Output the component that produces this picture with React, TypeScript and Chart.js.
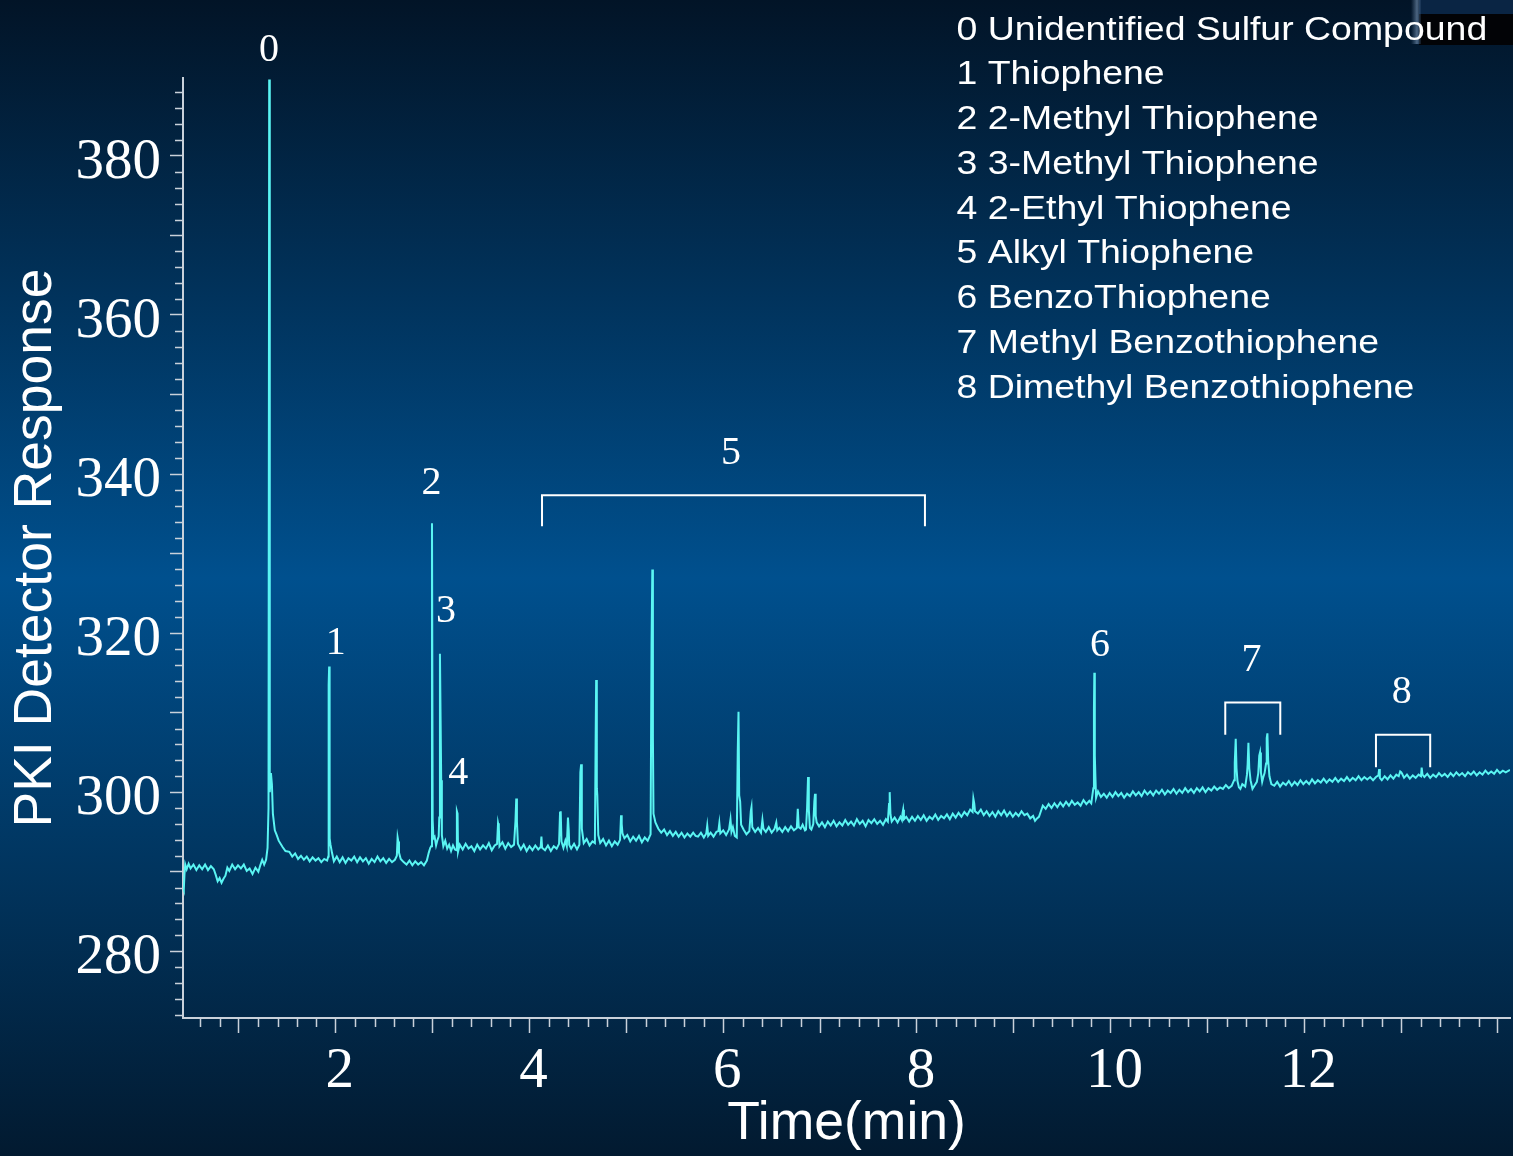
import React, { useEffect, useRef } from 'react';
import { Chart, registerables } from 'chart.js';

Chart.register(...registerables);

const SERIF = "'Liberation Serif', 'Times New Roman', serif";
const SANS = "'Liberation Sans', Arial, sans-serif";

// [retention time (min), detector response]
const earlyTrace: [number, number][] = [
  [0.422, 288.0], [0.43, 287.7], [0.437, 289.6], [0.445, 290.9], [0.46, 290.3], [0.48, 291.0], [0.50, 290.4],
  [0.53, 290.9], [0.56, 290.2], [0.59, 290.8], [0.62, 290.3], [0.65, 290.9], [0.68, 290.2], [0.71, 290.7],
  [0.74, 290.3], [0.76, 289.6], [0.78, 288.8], [0.80, 289.2], [0.82, 288.6], [0.84, 289.1], [0.86, 289.5],
  [0.88, 290.5], [0.90, 290.1], [0.93, 290.9], [0.96, 290.3], [0.99, 290.8], [1.02, 290.4], [1.05, 290.9],
  [1.08, 290.1], [1.11, 290.4], [1.14, 289.7], [1.17, 290.5], [1.20, 290.0], [1.22, 290.8], [1.24, 291.5],
  [1.26, 290.9], [1.28, 291.5], [1.295, 293.0], [1.305, 298.0], [1.312, 389.6], [1.318, 300.0], [1.33, 302.4],
  [1.34, 301.0], [1.35, 297.3], [1.37, 295.2], [1.39, 294.6], [1.41, 293.9], [1.45, 293.1], [1.48, 292.6],
  [1.52, 292.5], [1.55, 291.9], [1.58, 292.3], [1.61, 291.6], [1.64, 292.0], [1.67, 291.5], [1.70, 291.9],
  [1.73, 291.3], [1.76, 291.8], [1.79, 291.4], [1.82, 291.7], [1.85, 291.2], [1.88, 291.6], [1.91, 291.4],
];

const thiopheneTrace: [number, number][] = [
  [1.922, 291.9], [1.926, 313.5], [1.931, 315.8], [1.936, 294.2], [1.945, 293.4], [1.96, 292.4], [1.98, 291.3],
  [2.01, 291.9], [2.04, 291.2], [2.07, 291.8], [2.10, 291.1], [2.13, 291.7], [2.16, 291.4], [2.19, 291.9],
  [2.22, 291.2], [2.25, 291.8], [2.28, 291.3], [2.31, 291.7], [2.34, 291.0], [2.37, 291.6], [2.40, 291.2],
  [2.43, 291.9], [2.46, 291.3], [2.49, 291.7], [2.52, 291.1], [2.55, 291.6], [2.58, 291.2], [2.61, 291.5],
  [2.63, 292.0], [2.638, 294.3], [2.645, 293.8], [2.652, 292.4], [2.67, 291.6], [2.70, 291.2], [2.73, 290.9],
  [2.76, 291.4], [2.79, 290.8], [2.82, 291.3], [2.85, 290.9], [2.88, 291.2], [2.91, 290.8], [2.94, 291.4],
  [2.96, 292.4], [2.975, 293.0], [2.985, 293.2], [2.993, 333.8], [3.0, 296.5], [3.008, 294.2], [3.02, 294.4],
  [3.035, 293.3], [3.05, 294.0], [3.062, 294.4], [3.068, 296.8], [3.075, 317.4], [3.082, 309.0], [3.088, 301.5],
  [3.095, 294.6], [3.11, 293.2], [3.13, 293.9], [3.15, 292.9], [3.17, 293.4], [3.19, 292.6], [3.21, 293.3],
  [3.23, 292.8], [3.245, 292.7], [3.25, 297.6], [3.257, 297.3], [3.262, 292.5], [3.28, 293.4], [3.31, 292.8],
  [3.34, 293.5], [3.37, 292.9], [3.40, 293.2], [3.43, 292.6], [3.46, 293.4], [3.49, 292.8], [3.52, 293.3],
  [3.55, 292.9], [3.58, 293.6], [3.61, 292.7], [3.64, 293.3], [3.665, 293.5], [3.675, 296.1], [3.683, 295.6],
  [3.69, 293.2], [3.72, 293.7], [3.75, 292.9], [3.78, 293.6], [3.81, 293.1], [3.84, 293.4], [3.855, 296.4],
  [3.863, 299.2], [3.87, 296.3], [3.88, 293.5], [3.91, 292.8], [3.94, 293.4], [3.97, 292.6], [4.00, 293.2],
  [4.03, 292.7], [4.06, 293.3], [4.09, 292.8],
];

const alkylTrace: [number, number][] = [
  [4.115, 293.1], [4.123, 294.4], [4.13, 293.0], [4.16, 292.7], [4.19, 293.3], [4.22, 292.6], [4.25, 293.2],
  [4.28, 292.9], [4.305, 293.5], [4.315, 297.4], [4.322, 297.6], [4.33, 293.8], [4.35, 293.0], [4.37, 293.9],
  [4.385, 293.2], [4.397, 296.8], [4.405, 295.2], [4.41, 293.4], [4.43, 292.9], [4.46, 293.5], [4.49, 292.8],
  [4.515, 293.4], [4.525, 302.5], [4.533, 303.5], [4.54, 295.4], [4.56, 293.6], [4.59, 294.1], [4.62, 293.3],
  [4.65, 293.8], [4.675, 293.6], [4.683, 307.0], [4.688, 314.1], [4.695, 300.5], [4.70, 299.6], [4.71, 294.6],
  [4.73, 293.6], [4.76, 294.1], [4.79, 293.3], [4.82, 293.9], [4.85, 293.2], [4.88, 293.8], [4.91, 293.4],
  [4.935, 294.0], [4.945, 297.1], [4.952, 296.0], [4.96, 294.8], [4.98, 294.2], [5.01, 294.6], [5.04, 293.8],
  [5.07, 294.4], [5.10, 293.9], [5.13, 294.5], [5.16, 293.7], [5.19, 294.3], [5.22, 293.9], [5.25, 294.7],
  [5.26, 318.5], [5.268, 328.0], [5.274, 307.0], [5.28, 297.3], [5.30, 296.2], [5.33, 295.4], [5.36, 294.9],
  [5.39, 295.3], [5.42, 294.6], [5.45, 295.1], [5.48, 294.5], [5.51, 295.0], [5.54, 294.4], [5.57, 294.9],
  [5.60, 294.3], [5.63, 294.8], [5.66, 294.4], [5.69, 294.9], [5.715, 294.5], [5.74, 294.4], [5.77, 294.9],
  [5.80, 294.3], [5.825, 294.8], [5.835, 295.8], [5.845, 294.5], [5.87, 294.9], [5.90, 294.4], [5.93, 295.0],
  [5.95, 295.1], [5.96, 296.1], [5.97, 294.8], [6.0, 295.2], [6.03, 294.6], [6.06, 295.3], [6.075, 296.6],
  [6.085, 295.0], [6.10, 295.6], [6.12, 294.5], [6.14, 294.3], [6.15, 305.0], [6.158, 310.1], [6.165, 299.6],
  [6.175, 298.8], [6.185, 295.9], [6.21, 295.3], [6.24, 294.7], [6.27, 295.1], [6.285, 297.6], [6.292, 298.1],
  [6.30, 295.6], [6.33, 295.0], [6.36, 295.5], [6.39, 294.9], [6.405, 296.5], [6.415, 295.4], [6.44, 295.0],
  [6.47, 295.6], [6.50, 294.9], [6.53, 295.4], [6.548, 296.2], [6.558, 295.2], [6.58, 295.5], [6.61, 295.0],
  [6.64, 295.6], [6.67, 295.1], [6.70, 295.7], [6.73, 295.2], [6.76, 295.5], [6.77, 297.9], [6.78, 295.6],
  [6.80, 295.4], [6.82, 295.9], [6.845, 295.2], [6.855, 295.3], [6.866, 298.0], [6.876, 301.9], [6.884, 297.8],
  [6.895, 295.5], [6.91, 295.3], [6.93, 296.0], [6.941, 298.8], [6.948, 299.8], [6.955, 297.0], [6.965, 296.2],
  [6.99, 295.7], [7.02, 296.2], [7.05, 295.6], [7.08, 296.3], [7.11, 295.8], [7.14, 296.4], [7.17, 295.7],
  [7.20, 296.2], [7.23, 295.8], [7.26, 296.5], [7.29, 295.9], [7.32, 296.3], [7.35, 295.8], [7.38, 296.6],
  [7.41, 296.0], [7.44, 296.4], [7.47, 295.7], [7.50, 296.5], [7.53, 296.1], [7.56, 296.6], [7.59, 296.0],
  [7.62, 296.4], [7.65, 295.9], [7.68, 296.6], [7.70, 296.3], [7.712, 298.5], [7.719, 300.0], [7.727, 297.2],
  [7.74, 296.3], [7.77, 296.8], [7.80, 296.2], [7.83, 296.9], [7.845, 296.5], [7.852, 297.4], [7.858, 297.8],
  [7.866, 296.6], [7.89, 296.9], [7.92, 296.3], [7.95, 296.9], [7.98, 296.4], [8.01, 297.0], [8.04, 296.5],
  [8.07, 297.1],
];

const benzoTrace: [number, number][] = [
  [8.10, 296.4], [8.13, 296.9], [8.16, 296.6], [8.19, 297.2], [8.22, 296.5], [8.25, 297.0], [8.28, 296.7],
  [8.31, 297.2], [8.34, 296.6], [8.37, 297.3], [8.40, 296.8], [8.43, 297.4], [8.46, 296.9], [8.49, 297.5],
  [8.52, 297.1], [8.55, 297.8], [8.575, 297.5], [8.583, 299.2], [8.592, 298.6], [8.60, 297.6], [8.63, 297.3],
  [8.66, 297.8], [8.69, 297.1], [8.72, 297.6], [8.75, 297.0], [8.78, 297.5], [8.81, 296.9], [8.84, 297.6],
  [8.87, 297.1], [8.90, 297.7], [8.93, 297.0], [8.96, 297.5], [8.99, 296.9], [9.02, 297.4], [9.05, 297.0],
  [9.08, 297.6], [9.11, 297.1], [9.14, 297.3], [9.17, 296.7], [9.20, 297.0], [9.22, 296.4], [9.24, 296.7],
  [9.26, 296.9], [9.28, 297.6], [9.30, 298.3], [9.33, 297.9], [9.36, 298.5], [9.39, 298.0], [9.42, 298.6],
  [9.45, 298.1], [9.48, 298.7], [9.51, 298.2], [9.54, 298.8], [9.57, 298.3], [9.60, 298.9], [9.63, 298.4],
  [9.66, 298.7], [9.69, 298.3], [9.72, 299.0], [9.75, 298.5], [9.78, 298.9], [9.80, 298.6], [9.822, 300.5],
  [9.828, 310.5], [9.832, 315.0], [9.837, 304.6], [9.843, 302.0], [9.85, 299.3], [9.87, 300.1], [9.90, 299.4],
  [9.93, 299.8], [9.96, 299.3], [9.99, 299.9], [10.02, 299.4], [10.05, 300.0], [10.08, 299.5], [10.11, 299.9],
  [10.14, 299.3], [10.17, 299.8], [10.20, 299.5], [10.23, 300.1], [10.26, 299.6], [10.29, 300.0], [10.32, 299.5],
  [10.35, 300.2], [10.38, 299.7], [10.41, 300.1], [10.44, 299.6], [10.47, 300.2], [10.50, 299.8], [10.53, 300.3],
  [10.56, 299.7], [10.59, 300.2], [10.62, 299.9], [10.65, 300.4], [10.68, 299.8], [10.71, 300.3], [10.74, 299.9],
  [10.77, 300.5], [10.80, 300.0], [10.83, 300.4], [10.86, 299.9], [10.89, 300.5], [10.92, 300.1], [10.95, 300.6],
  [10.98, 300.0], [11.01, 300.5], [11.04, 300.2], [11.07, 300.7], [11.10, 300.3], [11.13, 300.6], [11.16, 300.4],
  [11.19, 300.9], [11.22, 300.5], [11.25, 300.8], [11.275, 301.5], [11.282, 303.7], [11.292, 306.7], [11.30, 303.0],
  [11.31, 301.4], [11.325, 300.6], [11.34, 300.4], [11.36, 301.0], [11.39, 300.7], [11.408, 302.2], [11.415, 303.5],
  [11.423, 306.2], [11.432, 303.0], [11.445, 301.5], [11.465, 300.4], [11.485, 300.8], [11.51, 301.3], [11.525, 302.4],
  [11.535, 304.6], [11.543, 305.0], [11.552, 302.5], [11.565, 301.3], [11.577, 301.9], [11.59, 302.4], [11.605, 303.6],
  [11.612, 306.8], [11.619, 307.4], [11.627, 304.0], [11.64, 302.0], [11.66, 301.0], [11.69, 300.8], [11.72, 301.3],
  [11.75, 300.7], [11.78, 301.2], [11.81, 300.9], [11.84, 301.4], [11.87, 300.8], [11.90, 301.3], [11.93, 300.9],
  [11.96, 301.5], [11.99, 301.0], [12.02, 301.4], [12.05, 301.0], [12.08, 301.6], [12.11, 301.1], [12.14, 301.5],
  [12.17, 301.2], [12.20, 301.7], [12.23, 301.2], [12.26, 301.6], [12.29, 301.3], [12.32, 301.8], [12.35, 301.3],
  [12.38, 301.7], [12.41, 301.4], [12.44, 301.9], [12.47, 301.4], [12.50, 301.8], [12.53, 301.5], [12.56, 302.0],
  [12.59, 301.5], [12.62, 301.9], [12.65, 301.6], [12.68, 301.9], [12.71, 301.5], [12.74, 301.9], [12.765, 302.1],
  [12.773, 302.9], [12.78, 301.8], [12.80, 301.5], [12.83, 302.0], [12.86, 301.6], [12.89, 302.1], [12.92, 301.7],
  [12.95, 302.2], [12.975, 302.0], [12.99, 302.6], [13.00, 302.5], [13.01, 302.3], [13.03, 301.8], [13.06, 302.2],
  [13.09, 301.7], [13.12, 302.1], [13.15, 301.8], [13.18, 302.2], [13.205, 302.0], [13.212, 303.1], [13.22, 302.2],
  [13.24, 301.9], [13.27, 302.3], [13.30, 301.8], [13.33, 302.2], [13.36, 301.9], [13.39, 302.4], [13.42, 302.0],
  [13.45, 302.3], [13.48, 301.9], [13.51, 302.4], [13.54, 302.0], [13.57, 302.5], [13.60, 302.1], [13.63, 302.4],
  [13.66, 302.0], [13.69, 302.5], [13.72, 302.2], [13.75, 302.6], [13.78, 302.1], [13.81, 302.5], [13.84, 302.2],
  [13.87, 302.7], [13.90, 302.3], [13.93, 302.6], [13.96, 302.3], [13.99, 302.8], [14.02, 302.4], [14.05, 302.7],
  [14.08, 302.5], [14.124, 302.8],
];

// peak annotations (data coordinates)
const peakLabels = ['0', '1', '2', '3', '4', '5', '6', '7', '8'];
const peakLabelTimes = [1.31, 1.998, 2.988, 3.137, 3.264, 6.08, 9.89, 11.456, 13.005];
const peakLabelResponses = [393.3, 318.7, 338.8, 322.7, 302.4, 342.6, 318.4, 316.5, 312.5];

// group brackets (data coordinates)
const bracketStart = [4.129, 11.184, 12.74];
const bracketEnd = [8.083, 11.752, 13.3];
const bracketTop = [337.34, 311.28, 307.23];
const bracketBottom = [333.45, 307.23, 303.12];

const compoundNames = [
  '0 Unidentified Sulfur Compound',
  '1 Thiophene',
  '2 2-Methyl Thiophene',
  '3 3-Methyl Thiophene',
  '4 2-Ethyl Thiophene',
  '5 Alkyl Thiophene',
  '6 BenzoThiophene',
  '7 Methyl Benzothiophene',
  '8 Dimethyl Benzothiophene',
];

const xTickLabels = [2, 4, 6, 8, 10, 12];
const yTickLabels = [280, 300, 320, 340, 360, 380];

const X_MIN = 0.422;
const X_MAX = 14.124;
const Y_MIN = 271.6;
const Y_MAX = 389.8;

const AXIS_COLOR = '#c9d1da';

const decorPlugin = {
  id: 'decor',
  beforeDraw(chart: any) {
    const { ctx, width, height } = chart;
    ctx.save();
    const g = ctx.createLinearGradient(0, 0, 0, height);
    g.addColorStop(0, '#021427');
    g.addColorStop(0.5, '#00508e');
    g.addColorStop(1, '#021a30');
    ctx.fillStyle = g;
    ctx.fillRect(0, 0, width, height);
    // slide artifact in the top-right corner
    ctx.fillStyle = '#0a2544';
    ctx.fillRect(1419, 0, width - 1419, 14);
    ctx.fillStyle = '#020306';
    ctx.fillRect(1419, 14, width - 1419, 31);
    const sg = ctx.createLinearGradient(1411, 0, 1421, 0);
    sg.addColorStop(0, 'rgba(120,150,185,0)');
    sg.addColorStop(0.6, 'rgba(140,170,205,0.55)');
    sg.addColorStop(1, 'rgba(60,90,125,0.25)');
    ctx.fillStyle = sg;
    ctx.fillRect(1411, 0, 10, 44);
    ctx.restore();
  },
  afterDraw(chart: any) {
    const { ctx, chartArea } = chart;
    const xs = chart.scales.x;
    const ys = chart.scales.y;
    ctx.save();
    // minor ticks
    ctx.strokeStyle = AXIS_COLOR;
    ctx.lineWidth = 1.5;
    ctx.beginPath();
    for (let i = Math.ceil(X_MIN / 0.2); i * 0.2 <= X_MAX; i++) {
      const v = i * 0.2;
      if (Math.abs(v - Math.round(v)) < 1e-6) continue;
      const px = Math.round(xs.getPixelForValue(v)) + 0.5;
      ctx.moveTo(px, chartArea.bottom);
      ctx.lineTo(px, chartArea.bottom + 9);
    }
    for (let i = Math.ceil(Y_MIN / 2); i * 2 <= Y_MAX; i++) {
      const v = i * 2;
      if (v % 10 === 0) continue;
      const py = Math.round(ys.getPixelForValue(v)) + 0.5;
      ctx.moveTo(chartArea.left, py);
      ctx.lineTo(chartArea.left - 8, py);
    }
    ctx.stroke();

    // brackets
    ctx.strokeStyle = '#ffffff';
    ctx.lineWidth = 2;
    for (let i = 0; i < bracketStart.length; i++) {
      const x1 = xs.getPixelForValue(bracketStart[i]);
      const x2 = xs.getPixelForValue(bracketEnd[i]);
      const yt = ys.getPixelForValue(bracketTop[i]);
      const yb = ys.getPixelForValue(bracketBottom[i]);
      ctx.beginPath();
      ctx.moveTo(x1, yb);
      ctx.lineTo(x1, yt);
      ctx.lineTo(x2, yt);
      ctx.lineTo(x2, yb);
      ctx.stroke();
    }

    // peak labels
    ctx.fillStyle = '#ffffff';
    ctx.font = `40px ${SERIF}`;
    ctx.textAlign = 'center';
    ctx.textBaseline = 'middle';
    for (let i = 0; i < peakLabels.length; i++) {
      ctx.fillText(peakLabels[i], xs.getPixelForValue(peakLabelTimes[i]), ys.getPixelForValue(peakLabelResponses[i]));
    }

    // compound list
    ctx.font = `32.5px ${SANS}`;
    ctx.textAlign = 'left';
    ctx.textBaseline = 'alphabetic';
    compoundNames.forEach((name, i) => {
      ctx.save();
      ctx.translate(956.5, 39.5 + i * 44.75);
      ctx.scale(1.152, 1);
      ctx.fillText(name, 0, 0);
      ctx.restore();
    });
    ctx.restore();
  },
};

export default function App() {
  const canvasRef = useRef<HTMLCanvasElement | null>(null);

  useEffect(() => {
    const canvas = canvasRef.current;
    if (!canvas) return;
    const points = [...earlyTrace, ...thiopheneTrace, ...alkylTrace, ...benzoTrace].map(([x, y]) => ({ x, y }));
    const chart = new Chart(canvas, {
      type: 'line',
      data: {
        datasets: [
          {
            label: 'PKI Detector Response',
            data: points,
            borderColor: '#5af5f3',
            borderWidth: 2,
            pointRadius: 0,
            tension: 0,
            fill: false,
          },
        ],
      },
      options: {
        animation: false,
        responsive: false,
        devicePixelRatio: 1,
        layout: { padding: { top: 78, right: 3, left: 0, bottom: 0 } },
        plugins: { legend: { display: false }, tooltip: { enabled: false } },
        scales: {
          x: {
            type: 'linear',
            min: X_MIN,
            max: X_MAX,
            afterFit: (scale: any) => {
              scale.height = 138;
            },
            border: { display: true, color: AXIS_COLOR, width: 2 },
            grid: { drawOnChartArea: false, drawTicks: true, tickLength: 15, tickColor: AXIS_COLOR, tickWidth: 1.5 },
            ticks: {
              stepSize: 1,
              includeBounds: false,
              autoSkip: false,
              maxRotation: 0,
              maxTicksLimit: 40,
              padding: 5,
              labelOffset: 4,
              color: '#ffffff',
              font: { family: SERIF, size: 57 },
              callback: (v: any) => (xTickLabels.includes(Number(v)) ? String(v) : ''),
            },
            title: {
              display: true,
              text: 'Time(min)',
              color: '#ffffff',
              font: { family: SANS, size: 53.5 },
              padding: { top: 0, bottom: 0 },
            },
          },
          y: {
            type: 'linear',
            min: Y_MIN,
            max: Y_MAX,
            afterFit: (scale: any) => {
              scale.width = 183;
            },
            border: { display: true, color: AXIS_COLOR, width: 2 },
            grid: { drawOnChartArea: false, drawTicks: true, tickLength: 13, tickColor: AXIS_COLOR, tickWidth: 1.5 },
            ticks: {
              stepSize: 10,
              includeBounds: false,
              autoSkip: false,
              maxTicksLimit: 40,
              padding: 9,
              labelOffset: 7,
              color: '#ffffff',
              font: { family: SERIF, size: 57 },
              callback: (v: any) => (yTickLabels.includes(Number(v)) ? String(v) : ''),
            },
            title: {
              display: true,
              text: 'PKI Detector Response',
              color: '#ffffff',
              font: { family: SANS, size: 53.5 },
              padding: { top: 4, bottom: 0 },
            },
          },
        },
      },
      plugins: [decorPlugin],
    });
    return () => chart.destroy();
  }, []);

  return (
    <div style={{ position: 'fixed', left: 0, top: 0, width: 1513, height: 1156, overflow: 'hidden' }}>
      <canvas ref={canvasRef} width={1513} height={1156} style={{ display: 'block', width: 1513, height: 1156 }} />
    </div>
  );
}
